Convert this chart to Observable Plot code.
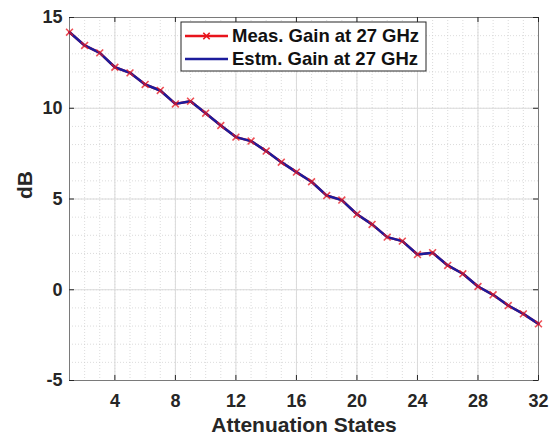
<!DOCTYPE html>
<html>
<head>
<meta charset="utf-8">
<script src="https://cdn.jsdelivr.net/npm/d3@7"></script>
<script src="https://cdn.jsdelivr.net/npm/@observablehq/plot@0.6"></script>
<style>
  html, body { margin: 0; padding: 0; background: #fff; }
  #chart { width: 549px; height: 439px; }
</style>
</head>
<body>
<div id="chart"></div>
<script>
const states = [1,2,3,4,5,6,7,8,9,10,11,12,13,14,15,16,17,18,19,20,21,22,23,24,25,26,27,28,29,30,31,32];
const measGain = [14.19,13.46,13.05,12.26,11.95,11.31,10.98,10.24,10.39,9.73,9.05,8.41,8.19,7.64,7.03,6.48,5.95,5.19,4.94,4.16,3.60,2.90,2.68,1.94,2.04,1.34,0.88,0.18,-0.28,-0.87,-1.33,-1.88];
const estmGain = [14.19,13.46,13.05,12.26,11.95,11.31,10.98,10.24,10.39,9.73,9.05,8.41,8.19,7.64,7.03,6.48,5.95,5.19,4.94,4.16,3.60,2.90,2.68,1.94,2.04,1.34,0.88,0.18,-0.28,-0.87,-1.33,-1.88];
const xTicks = [4,8,12,16,20,24,28,32];
const yTicks = [-5,0,5,10,15];
const xMinor = [1,2,3,4,5,6,7,8,9,10,11,12,13,14,15,16,17,18,19,20,21,22,23,24,25,26,27,28,29,30,31,32];
const yMinor = [-5,-4,-3,-2,-1,0,1,2,3,4,5,6,7,8,9,10,11,12,13,14,15];
const seriesNames = ["Meas. Gain at 27 GHz", "Estm. Gain at 27 GHz"];
const xLabel = "Attenuation States";
const yLabel = "dB";

const meas = states.map((s, i) => ({x: s, y: measGain[i]}));
const estm = states.map((s, i) => ({x: s, y: estmGain[i]}));

const W = 549, H = 439;
const mL = 69, mR = 11, mT = 17, mB = 59;
const innerW = W - mL - mR, innerH = H - mT - mB;
const tickLen = 5;
const RED = "#e8141c", BLUE = "#1c1c9c", AX = "#262626";
const FONT = "'Liberation Sans', Arial, sans-serif";

const chart = Plot.plot({
  width: W, height: H,
  marginLeft: mL, marginRight: mR, marginTop: mT, marginBottom: mB,
  style: {fontFamily: FONT, fontSize: "18px", fontWeight: "bold", color: AX, background: "#fff"},
  x: {domain: [1, 32]},
  y: {domain: [-5, 15], axis: null},
  marks: [
    Plot.gridX(xMinor, {stroke: "#cccccc", strokeOpacity: 1, strokeDasharray: "1,2", strokeWidth: 0.7}),
    Plot.gridY(yMinor, {stroke: "#cccccc", strokeOpacity: 1, strokeDasharray: "1,2", strokeWidth: 0.7}),
    Plot.gridX(xTicks, {stroke: "#dadada", strokeOpacity: 1, strokeWidth: 1}),
    Plot.gridY(yTicks, {stroke: "#dadada", strokeOpacity: 1, strokeWidth: 1}),
    Plot.frame({stroke: "#7a7a7a", strokeWidth: 1}),
    Plot.tickX(xTicks, {x: d => d, stroke: AX, insetTop: innerH - tickLen}),
    Plot.tickX(xTicks, {x: d => d, stroke: AX, insetBottom: innerH - tickLen}),
    Plot.tickY(yTicks, {y: d => d, stroke: AX, insetRight: innerW - tickLen}),
    Plot.tickY(yTicks, {y: d => d, stroke: AX, insetLeft: innerW - tickLen}),
    Plot.axisX({ticks: xTicks, tickSize: 0, tickPadding: 14, label: null, fill: AX}),
    Plot.text(yTicks, {y: d => d, text: d => String(d), frameAnchor: "left", dx: -7, textAnchor: "end", lineAnchor: "middle", fontSize: 18, fontWeight: "bold", fill: AX}),
    Plot.line(meas, {x: "x", y: "y", stroke: RED, strokeWidth: 2.5}),
    Plot.line(estm, {x: "x", y: "y", stroke: BLUE, strokeWidth: 2.5}),
    Plot.dot(meas, {x: "x", y: "y", symbol: "times", r: 3.2, stroke: RED, strokeWidth: 1.6, strokeOpacity: 0.75}),
    Plot.text([xLabel], {text: d => d, frameAnchor: "bottom", dy: 45, lineAnchor: "middle", fontSize: 21, fontWeight: "bold", fill: AX}),
    Plot.text([yLabel], {text: d => d, frameAnchor: "left", dx: -44, rotate: -90, fontSize: 21, fontWeight: "bold", fill: AX})
  ]
});

// Legend (inside the axes, top)
const svg = d3.select(chart);
const lg = svg.append("g").attr("class", "legend").attr("text-anchor", "start");
const lx = 181, ly = 22, lw = 245, lh = 49;
lg.append("rect").attr("x", lx).attr("y", ly).attr("width", lw).attr("height", lh)
  .attr("fill", "#fff").attr("stroke", AX).attr("stroke-width", 1);
const colors = [RED, BLUE];
const rowsY = [36, 59];
seriesNames.forEach((name, i) => {
  lg.append("line").attr("x1", 185).attr("x2", 228).attr("y1", rowsY[i]).attr("y2", rowsY[i])
    .attr("stroke", colors[i]).attr("stroke-width", 2.5);
  if (i === 0) {
    const cx = 206.5, cy = rowsY[i], s = 3.2;
    lg.append("path").attr("d", `M${cx-s},${cy-s}L${cx+s},${cy+s}M${cx-s},${cy+s}L${cx+s},${cy-s}`)
      .attr("stroke", RED).attr("stroke-width", 1.6).attr("fill", "none");
  }
  lg.append("text").attr("x", 232).attr("y", rowsY[i]).attr("dy", "0.35em")
    .attr("text-anchor", "start")
    .attr("font-size", 18.5).attr("font-weight", "bold").attr("fill", "#111")
    .attr("font-family", FONT)
    .text(name);
});

document.getElementById("chart").appendChild(chart);
</script>
</body>
</html>
